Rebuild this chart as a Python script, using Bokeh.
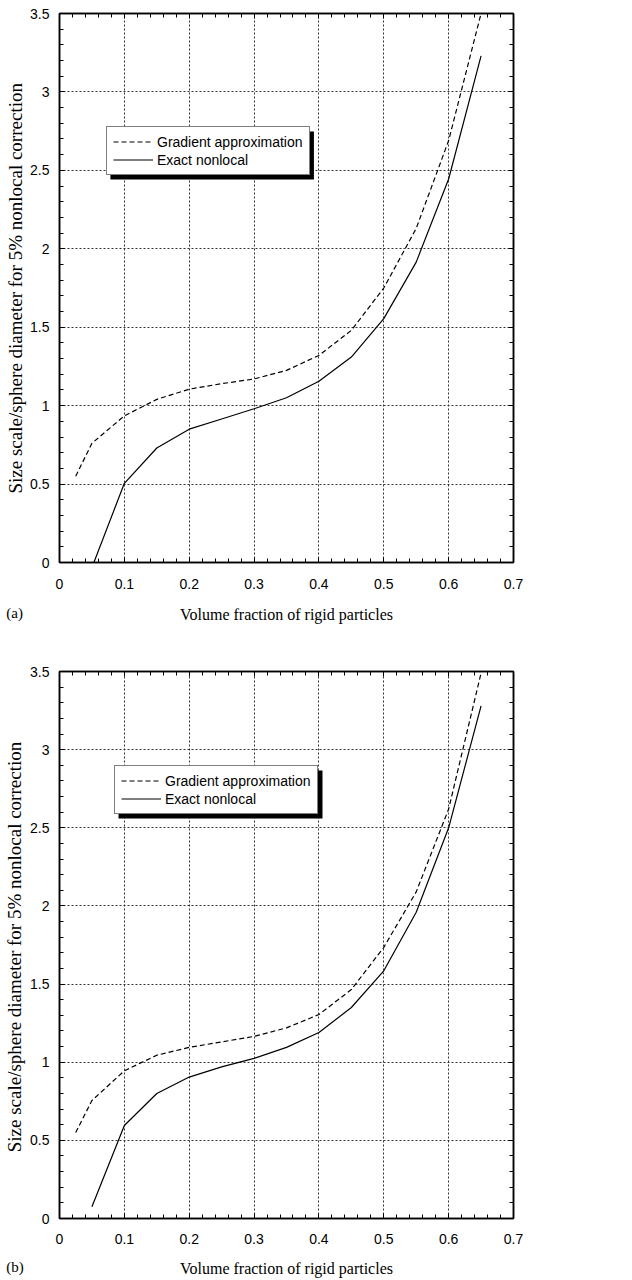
from bokeh.plotting import figure
from bokeh.layouts import column
from bokeh.models import (FixedTicker, LinearAxis, Range1d, BoxAnnotation, Label,
                          CustomJSTickFormatter)
from bokeh.embed import file_html
from bokeh.resources import INLINE

# ---------------- data ----------------
x_major = [0, 0.1, 0.2, 0.3, 0.4, 0.5, 0.6, 0.7]
x_minor = [round(i * 0.02, 2) for i in range(36)]
y_major = [0, 0.5, 1.0, 1.5, 2.0, 2.5, 3.0, 3.5]
y_minor = [round(i * 0.1, 1) for i in range(36)]

grad_x = [0.025, 0.05, 0.1, 0.15, 0.2, 0.25, 0.3, 0.35, 0.4, 0.45, 0.5, 0.55, 0.6, 0.65]
a_grad_y = [0.55, 0.76, 0.935, 1.04, 1.105, 1.14, 1.17, 1.225, 1.32, 1.48, 1.75, 2.13, 2.69, 3.50]
a_exact_x = [0.053, 0.1, 0.15, 0.2, 0.25, 0.3, 0.35, 0.4, 0.45, 0.5, 0.55, 0.6, 0.65]
a_exact_y = [0.0, 0.505, 0.73, 0.85, 0.915, 0.98, 1.05, 1.155, 1.31, 1.555, 1.915, 2.445, 3.23]

b_grad_y = [0.55, 0.755, 0.945, 1.045, 1.095, 1.13, 1.165, 1.22, 1.305, 1.465, 1.735, 2.09, 2.62, 3.49]
b_exact_x = [0.05, 0.1, 0.15, 0.2, 0.25, 0.3, 0.35, 0.4, 0.45, 0.5, 0.55, 0.6, 0.65]
b_exact_y = [0.075, 0.595, 0.80, 0.905, 0.97, 1.025, 1.095, 1.19, 1.35, 1.585, 1.96, 2.50, 3.28]

x_title = "Volume fraction of rigid particles"
y_title = "Size scale/sphere diameter for 5% nonlocal correction"
legend_labels = ["Gradient approximation", "Exact nonlocal"]

SANS = "Liberation Sans"
SERIF = "Liberation Serif"


def style_axis(ax, show_labels):
    ax.axis_line_color = "black"
    ax.axis_line_width = 1.5
    ax.major_tick_in = 5
    ax.major_tick_out = 0
    ax.minor_tick_in = 4
    ax.minor_tick_out = 0
    ax.major_tick_line_color = "black"
    ax.minor_tick_line_color = "black"
    ax.major_label_text_font = SANS
    ax.major_label_text_font_size = "14px"
    ax.major_label_text_color = "black"
    if show_labels:
        ax.formatter = CustomJSTickFormatter(code="return Number(tick.toFixed(2)).toString();")
    else:
        ax.formatter = CustomJSTickFormatter(code="return '';")
        ax.major_label_standoff = 0


def make_plot(gy, ex, ey, panel, legend_loc, shadow, left_border, top_border, bottom_border,
              lab_pos, ylab_pos, tick_sd, title_sd):
    p = figure(width=632, height=640, x_range=Range1d(0, 0.7), y_range=Range1d(0, 3.5),
               output_backend="svg", toolbar_location=None,
               min_border_left=left_border, min_border_right=119,
               min_border_top=top_border, min_border_bottom=bottom_border)
    p.outline_line_color = "black"
    p.outline_line_width = 1.5
    p.background_fill_color = "white"
    p.border_fill_color = "white"

    xt = FixedTicker(ticks=x_major, minor_ticks=x_minor)
    yt = FixedTicker(ticks=y_major, minor_ticks=y_minor)

    bottom = p.below[0]
    left = p.left[0]
    bottom.ticker = xt
    left.ticker = yt
    style_axis(bottom, True)
    style_axis(left, True)
    bottom.major_label_standoff = tick_sd
    left.major_label_standoff = 10

    top = LinearAxis(ticker=xt)
    right = LinearAxis(ticker=yt)
    style_axis(top, False)
    style_axis(right, False)
    p.add_layout(top, "above")
    p.add_layout(right, "right")

    bottom.axis_label = x_title
    bottom.axis_label_text_font = SERIF
    bottom.axis_label_text_font_size = "16px"
    bottom.axis_label_text_font_style = "normal"
    bottom.axis_label_text_color = "black"
    bottom.axis_label_standoff = title_sd

    p.xgrid.ticker = xt
    p.ygrid.ticker = yt
    for g in (p.xgrid, p.ygrid):
        g.grid_line_color = "#333333"
        g.grid_line_dash = "2 2"
        g.grid_line_width = 1

    p.add_layout(BoxAnnotation(left=shadow[0], right=shadow[1], bottom=shadow[2], top=shadow[3],
                               fill_color="black", fill_alpha=1.0, line_color=None,
                               level="glyph"))

    p.line(grad_x, gy, line_color="black", line_width=1.2, line_dash="5 3",
           legend_label=legend_labels[0])
    p.line(ex, ey, line_color="black", line_width=1.2, legend_label=legend_labels[1])

    lg = p.legend[0]
    lg.location = legend_loc
    lg.border_line_color = "black"
    lg.border_line_width = 1.5
    lg.background_fill_color = "white"
    lg.background_fill_alpha = 1.0
    lg.label_text_font = SANS
    lg.label_text_font_size = "14px"
    lg.label_text_color = "black"
    lg.glyph_width = 40
    lg.glyph_height = 17
    lg.label_height = 17
    lg.label_standoff = 4
    lg.padding = 6
    lg.spacing = 1
    lg.margin = 0

    # panel tag "(a)"/"(b)" and the rotated y title, placed outside the frame
    p.add_layout(Label(x=lab_pos[0], y=lab_pos[1], text=panel, text_font=SERIF,
                       text_font_size="15px", text_baseline="middle", text_color="black"),
                 "right")
    p.add_layout(Label(x=ylab_pos[0], y=ylab_pos[1], text=y_title, text_font=SERIF,
                       text_font_size="19px", text_baseline="middle", text_align="left",
                       angle=90, angle_units="deg", text_color="black"),
                 "right")
    return p


pa = make_plot(a_grad_y, a_exact_x, a_exact_y, "(a)", (47, 387),
               (0.0785, 0.3923, 2.442, 2.748), 58, 13, 78,
               (-0.082, -0.325), (-0.0677, 0.44), 16, 14)
pb = make_plot(b_grad_y, b_exact_x, b_exact_y, "(b)", (55, 404),
               (0.091, 0.4055, 2.559, 2.866), 59, 31, 62,
               (-0.082, -0.3135), (-0.0693, 0.424), 15, 13)

layout = column(pa, pb, spacing=0)
open("out.html", "w").write(file_html(layout, INLINE))
